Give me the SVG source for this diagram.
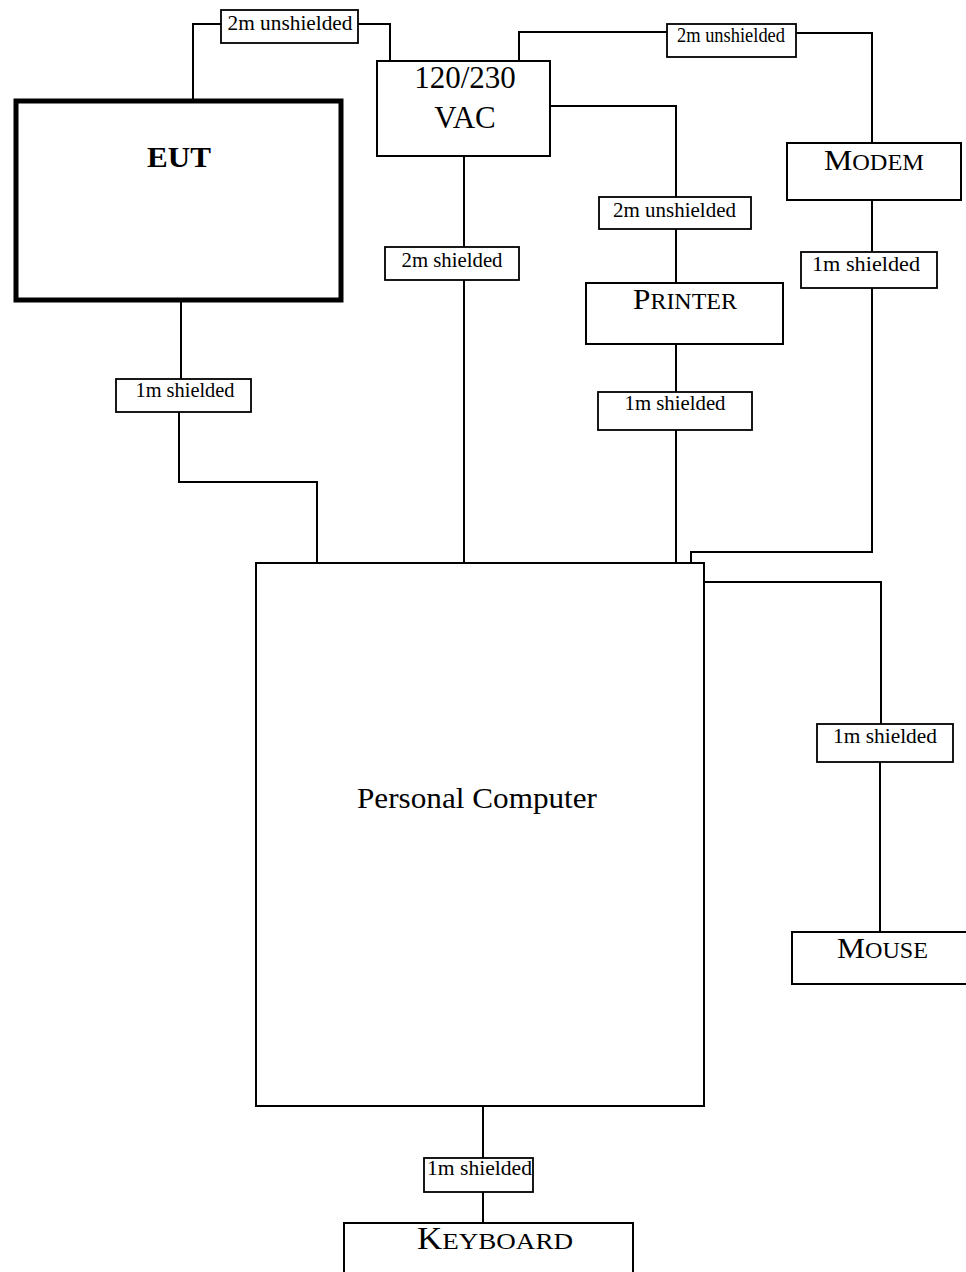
<svg xmlns="http://www.w3.org/2000/svg" width="966" height="1272" viewBox="0 0 966 1272">
<style>
.box{fill:#fff;stroke:#000;stroke-width:2}
.eut{fill:#fff;stroke:#000;stroke-width:5}
.lbl{fill:#fff;stroke:#000;stroke-width:1.8}
.wire{fill:none;stroke:#000;stroke-width:2}
text{font-family:"Liberation Serif","Times New Roman",serif;fill:#000}
.lt{font-size:20.5px;text-anchor:middle}
.big{font-size:30px;text-anchor:middle}
.sc{font-size:23px}
</style>
<rect width="966" height="1272" fill="#fff"/>
<g id="connectors">
<polyline class="wire" points="193,100 193,24 221,24"/>
<polyline class="wire" points="358,24 390,24 390,61"/>
<polyline class="wire" points="519,61 519,32 667,32"/>
<polyline class="wire" points="796,33 872,33 872,143"/>
<polyline class="wire" points="550,106 676,106 676,197"/>
<polyline class="wire" points="676,229 676,283"/>
<polyline class="wire" points="464,156 464,247"/>
<polyline class="wire" points="464,280 464,563"/>
<polyline class="wire" points="872,200 872,252"/>
<polyline class="wire" points="872,288 872,552 691,552 691,563"/>
<polyline class="wire" points="181,302 181,379"/>
<polyline class="wire" points="179,412 179,482 317,482 317,563"/>
<polyline class="wire" points="676,344 676,392"/>
<polyline class="wire" points="676,430 676,563"/>
<polyline class="wire" points="704,582 881,582 881,724"/>
<polyline class="wire" points="880,762 880,932"/>
<polyline class="wire" points="483,1106 483,1158"/>
<polyline class="wire" points="483,1192 483,1223"/>
</g>
<g id="labels">
<g id="l1"><rect class="lbl" x="221" y="10" width="137" height="33"/><text class="lt" x="290" y="30" textLength="125" lengthAdjust="spacingAndGlyphs">2m unshielded</text></g>
<g id="l2"><rect class="lbl" x="667" y="24" width="129" height="33"/><text class="lt" x="731" y="42" textLength="108" lengthAdjust="spacingAndGlyphs">2m unshielded</text></g>
<g id="l3"><rect class="lbl" x="599" y="197" width="152" height="32"/><text class="lt" x="674.5" y="217" textLength="123" lengthAdjust="spacingAndGlyphs">2m unshielded</text></g>
<g id="l4"><rect class="lbl" x="385" y="247" width="134" height="33"/><text class="lt" x="452" y="267" textLength="101" lengthAdjust="spacingAndGlyphs">2m shielded</text></g>
<g id="l5"><rect class="lbl" x="801" y="252" width="136" height="36"/><text class="lt" x="866" y="271" textLength="108" lengthAdjust="spacingAndGlyphs">1m shielded</text></g>
<g id="l6"><rect class="lbl" x="116" y="379" width="135" height="33"/><text class="lt" x="185" y="397" textLength="99" lengthAdjust="spacingAndGlyphs">1m shielded</text></g>
<g id="l7"><rect class="lbl" x="598" y="392" width="154" height="38"/><text class="lt" x="675" y="410" textLength="101" lengthAdjust="spacingAndGlyphs">1m shielded</text></g>
<g id="l8"><rect class="lbl" x="817" y="724" width="136" height="38"/><text class="lt" x="885" y="743" textLength="104" lengthAdjust="spacingAndGlyphs">1m shielded</text></g>
<g id="l9"><rect class="lbl" x="424" y="1158" width="109" height="34"/><text class="lt" x="479.5" y="1175" textLength="105" lengthAdjust="spacingAndGlyphs">1m shielded</text></g>
</g>
<g id="eut"><rect class="eut" x="16" y="101" width="325" height="199"/><text x="179" y="167" font-size="30" font-weight="bold" text-anchor="middle" textLength="64" lengthAdjust="spacingAndGlyphs">EUT</text></g>
<g id="vac"><rect class="box" x="377" y="61" width="173" height="95"/><text x="465" y="88" font-size="31" text-anchor="middle">120/230</text><text x="465" y="128" font-size="31" text-anchor="middle">VAC</text></g>
<g id="modem"><rect class="box" x="787" y="143" width="174" height="57"/><text class="big" x="874" y="170" textLength="100" lengthAdjust="spacingAndGlyphs">M<tspan class="sc">ODEM</tspan></text></g>
<g id="printer"><rect class="box" x="586" y="283" width="197" height="61"/><text class="big" x="685" y="309" textLength="104" lengthAdjust="spacingAndGlyphs">P<tspan class="sc">RINTER</tspan></text></g>
<g id="pc"><rect class="box" x="256" y="563" width="448" height="543"/><text x="477" y="808" font-size="28.5" text-anchor="middle" textLength="240" lengthAdjust="spacingAndGlyphs">Personal Computer</text></g>
<g id="mouse"><rect class="box" x="792" y="932" width="180" height="52"/><text class="big" x="882.5" y="958" textLength="91" lengthAdjust="spacingAndGlyphs">M<tspan class="sc">OUSE</tspan></text></g>
<g id="keyboard"><rect class="box" x="344" y="1223" width="289" height="60"/><text x="495" y="1249" font-size="31" text-anchor="middle" textLength="156" lengthAdjust="spacingAndGlyphs">K<tspan font-size="24">EYBOARD</tspan></text></g>
</svg>
